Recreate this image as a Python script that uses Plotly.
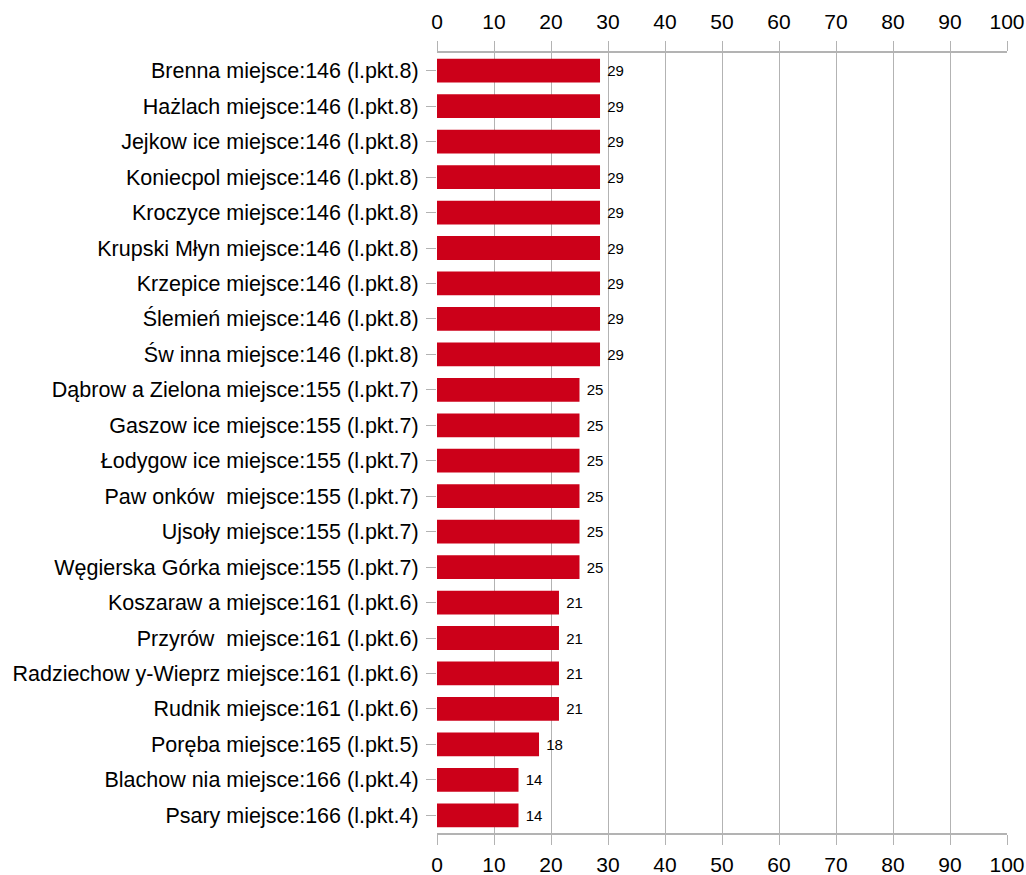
import plotly.graph_objects as go

# categories, top to bottom
gminy = [
    "Brenna miejsce:146 (l.pkt.8)",
    "Hażlach miejsce:146 (l.pkt.8)",
    "Jejkow ice miejsce:146 (l.pkt.8)",
    "Koniecpol miejsce:146 (l.pkt.8)",
    "Kroczyce miejsce:146 (l.pkt.8)",
    "Krupski Młyn miejsce:146 (l.pkt.8)",
    "Krzepice miejsce:146 (l.pkt.8)",
    "Ślemień miejsce:146 (l.pkt.8)",
    "Św inna miejsce:146 (l.pkt.8)",
    "Dąbrow a Zielona miejsce:155 (l.pkt.7)",
    "Gaszow ice miejsce:155 (l.pkt.7)",
    "Łodygow ice miejsce:155 (l.pkt.7)",
    "Paw onków\u00a0 miejsce:155 (l.pkt.7)",
    "Ujsoły miejsce:155 (l.pkt.7)",
    "Węgierska Górka miejsce:155 (l.pkt.7)",
    "Koszaraw a miejsce:161 (l.pkt.6)",
    "Przyrów\u00a0 miejsce:161 (l.pkt.6)",
    "Radziechow y-Wieprz miejsce:161 (l.pkt.6)",
    "Rudnik miejsce:161 (l.pkt.6)",
    "Poręba miejsce:165 (l.pkt.5)",
    "Blachow nia miejsce:166 (l.pkt.4)",
    "Psary miejsce:166 (l.pkt.4)",
]

wartosci = [28.6] * 9 + [25.0] * 6 + [21.4] * 4 + [17.9] + [14.3] * 2
etykiety = ["29"] * 9 + ["25"] * 6 + ["21"] * 4 + ["18"] + ["14"] * 2

x_ticks = [0, 10, 20, 30, 40, 50, 60, 70, 80, 90, 100]

FONT = "Liberation Sans, Arial, sans-serif"
GRID = "#b3b3b3"

bars = go.Bar(
    x=wartosci, y=gminy, orientation="h",
    marker=dict(color="#cc0019", line_width=0),
    text=[" " + t for t in etykiety], textposition="outside",
    textfont=dict(size=15, color="black", family=FONT),
    cliponaxis=False, hoverinfo="x+y",
)

# invisible copy so the bottom axis gets drawn
anchor = go.Scatter(
    x=wartosci, y=gminy, xaxis="x2", mode="markers",
    marker=dict(opacity=0), hoverinfo="skip",
)

fig = go.Figure(data=[bars, anchor])

axis_common = dict(
    range=[0, 100], tickvals=x_ticks, showgrid=True, gridcolor=GRID, gridwidth=1,
    zeroline=False, ticks="outside", ticklen=10, tickcolor=GRID,
    showline=True, linecolor=GRID, linewidth=2, automargin=False,
    tickfont=dict(size=21, color="black", family=FONT),
)

fig.update_layout(
    width=1026, height=875,
    margin=dict(l=437, r=19, t=53, b=42, autoexpand=False),
    paper_bgcolor="white", plot_bgcolor="white",
    showlegend=False, bargap=0.33,
    font=dict(family=FONT, color="black"),
    xaxis=dict(side="top", ticklabelstandoff=4, **axis_common),
    xaxis2=dict(side="bottom", overlaying="x", matches="x", anchor="y",
                ticklabelstandoff=2, **axis_common),
    yaxis=dict(
        range=[len(gminy) - 0.5, -0.5], showgrid=False, zeroline=False,
        ticks="outside", ticklen=10, tickcolor=GRID, showline=False,
        tickfont=dict(size=21.5, color="black", family=FONT),
        ticklabelstandoff=3, automargin=False,
    ),
)

# drop the default page margin so the figure sits at the window's corner
fig.write_html(
    "out.html",
    config={"displayModeBar": False},
    post_script="document.body.style.margin='0';",
)
